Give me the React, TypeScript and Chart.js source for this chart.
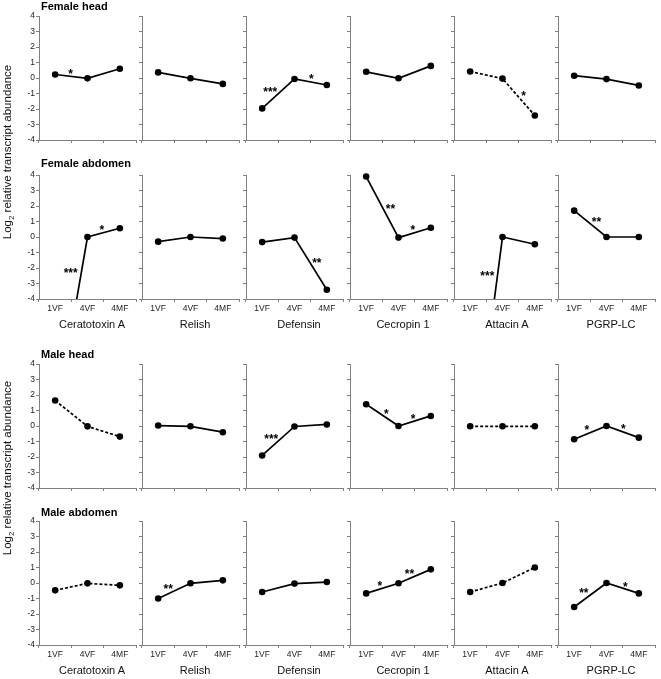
import React, { useEffect, useRef } from 'react';
import { Chart, registerables } from 'chart.js';

Chart.register(...registerables);

// ---------------- data ----------------
const categories = ['1VF', '4VF', '4MF'];
const genes = ['Ceratotoxin A', 'Relish', 'Defensin', 'Cecropin 1', 'Attacin A', 'PGRP-LC'];
const tissues = ['Female head', 'Female abdomen', 'Male head', 'Male abdomen'];
const yMin = -4;
const yMax = 4;
const yStep = 1;

// log2 relative transcript abundance per gene: [1VF, 4VF, 4MF]
const femaleHead = [
  [0.23, -0.02, 0.6],
  [0.36, -0.02, -0.38],
  [-1.96, -0.06, -0.45],
  [0.4, -0.02, 0.78],
  [0.42, -0.04, -2.42],
  [0.15, -0.07, -0.48],
];
const femaleAbdomen = [
  [-12, 0.0, 0.57],
  [-0.3, 0.0, -0.1],
  [-0.33, -0.04, -3.4],
  [3.9, -0.04, 0.6],
  [-16, 0.0, -0.47],
  [1.7, 0.0, 0.0],
];
const maleHead = [
  [1.65, -0.02, -0.68],
  [0.03, -0.02, -0.4],
  [-1.9, -0.03, 0.1],
  [1.4, 0.0, 0.65],
  [-0.02, -0.02, -0.02],
  [-0.85, 0.0, -0.75],
];
const maleAbdomen = [
  [-0.47, -0.02, -0.15],
  [-1.0, -0.02, 0.17],
  [-0.58, -0.04, 0.06],
  [-0.67, -0.02, 0.88],
  [-0.58, 0.0, 1.0],
  [-1.55, 0.0, -0.67],
];

// dashed (non-significant trend) lines
const dashedFemaleHead = [false, false, false, false, true, false];
const dashedFemaleAbdomen = [false, false, false, false, false, false];
const dashedMaleHead = [true, false, false, false, true, false];
const dashedMaleAbdomen = [true, false, false, false, true, false];

// significance marks: [text, category position, value]
const starsFemaleHead = [
  [['*', 0.48, 0.47]],
  [],
  [['***', 0.25, -0.7], ['*', 1.52, 0.1]],
  [],
  [['*', 1.65, -0.99]],
  [],
];
const starsFemaleAbdomen = [
  [['***', 0.48, -2.1], ['*', 1.44, 0.65]],
  [],
  [['**', 1.69, -1.48]],
  [['**', 0.75, 2.0], ['*', 1.44, 0.63]],
  [['***', 0.53, -2.35]],
  [['**', 0.69, 1.17]],
];
const starsMaleHead = [
  [],
  [],
  [['***', 0.28, -0.65]],
  [['*', 0.62, 0.96], ['*', 1.45, 0.66]],
  [],
  [['*', 0.39, -0.09], ['*', 1.52, 0.0]],
];
const starsMaleAbdomen = [
  [],
  [['**', 0.31, -0.22]],
  [],
  [['*', 0.42, 0.0], ['**', 1.34, 0.77]],
  [],
  [['**', 0.3, -0.47], ['*', 1.58, -0.04]],
];

const rowValues = [femaleHead, femaleAbdomen, maleHead, maleAbdomen];
const rowDashed = [dashedFemaleHead, dashedFemaleAbdomen, dashedMaleHead, dashedMaleAbdomen];
const rowStars = [starsFemaleHead, starsFemaleAbdomen, starsMaleHead, starsMaleAbdomen];

// ---------------- layout ----------------
const FONT = '"Liberation Sans", Arial, Helvetica, sans-serif';
const AXIS = '#808080';
const colLeft = [39, 142, 246, 350, 454, 558];
const rowTop = [16, 175, 364, 521];
const rowShowX = [false, true, false, true];
const plotW = 97;
const plotH = 124;
const PAD_L = 32;
const PAD_T = 6;
const PAD_R = 6;
const PAD_B = 22;
const CW = PAD_L + plotW + PAD_R;
const CH = PAD_T + plotH + PAD_B;

const starPlugin = {
  id: 'stars',
  afterDatasetsDraw(chart: any, _args: any, opts: any) {
    const { ctx } = chart;
    const xs = chart.scales.x;
    const ys = chart.scales.y;
    ctx.save();
    ctx.fillStyle = '#000';
    ctx.font = 'bold 12px ' + FONT;
    ctx.textAlign = 'center';
    ctx.textBaseline = 'alphabetic';
    for (const [t, xi, yv] of opts.items || []) {
      ctx.fillText(t, xs.getPixelForValue(xi), ys.getPixelForValue(yv) + 7);
    }
    ctx.restore();
  },
};

function Panel(props: {
  values: number[];
  dashed: boolean;
  stars: any[];
  showY: boolean;
  showX: boolean;
  left: number;
  top: number;
}) {
  const ref = useRef<HTMLCanvasElement>(null);
  useEffect(() => {
    const chart = new Chart(ref.current as HTMLCanvasElement, {
      type: 'line',
      data: {
        labels: categories,
        datasets: [
          {
            data: props.values,
            borderColor: '#000',
            backgroundColor: '#000',
            borderWidth: 1.7,
            borderDash: props.dashed ? [3, 2] : [],
            pointRadius: 3.3,
            pointBackgroundColor: '#000',
            pointBorderWidth: 0,
            tension: 0,
            fill: false,
            clip: { left: 6, right: 6, top: 6, bottom: 0 } as any,
          },
        ],
      },
      options: {
        animation: false,
        responsive: false,
        maintainAspectRatio: false,
        devicePixelRatio: 1,
        events: [],
        layout: { padding: { left: 0, right: PAD_R, top: PAD_T, bottom: 0 } },
        plugins: {
          legend: { display: false },
          tooltip: { enabled: false },
          stars: { items: props.stars },
        } as any,
        scales: {
          x: {
            type: 'category',
            offset: true,
            grid: {
              display: true,
              drawOnChartArea: false,
              drawTicks: true,
              tickLength: 3,
              offset: true,
              color: AXIS,
              lineWidth: 1,
            },
            border: { display: true, color: AXIS, width: 1 },
            ticks: {
              display: props.showX,
              autoSkip: false,
              maxRotation: 0,
              padding: 2,
              color: '#222',
              font: { family: FONT, size: 8.5 },
            },
            afterFit: (s: any) => {
              s.height = PAD_B;
            },
          } as any,
          y: {
            type: 'linear',
            min: yMin,
            max: yMax,
            grid: {
              display: true,
              drawOnChartArea: false,
              drawTicks: true,
              tickLength: 3,
              color: AXIS,
              lineWidth: 1,
            },
            border: { display: true, color: AXIS, width: 1 },
            ticks: {
              display: props.showY,
              stepSize: yStep,
              padding: 1,
              color: '#222',
              font: { family: FONT, size: 8.5 },
            },
            afterFit: (s: any) => {
              s.width = PAD_L;
            },
          } as any,
        },
      },
      plugins: [starPlugin as any],
    });
    return () => chart.destroy();
  }, []);
  return (
    <canvas
      ref={ref}
      width={CW}
      height={CH}
      style={{
        position: 'absolute',
        left: props.left - PAD_L,
        top: props.top - PAD_T,
        width: CW,
        height: CH,
      }}
    />
  );
}

const titleBaseline = [10, 167.5, 358, 516];
const geneBaseline = [328, 674];
const yLabelCenter = [152, 468];

export default function App() {
  const panels: any[] = [];
  rowValues.forEach((row, r) => {
    row.forEach((vals, c) => {
      panels.push(
        <Panel
          key={r + '-' + c}
          values={vals}
          dashed={rowDashed[r][c]}
          stars={rowStars[r][c]}
          showY={c === 0}
          showX={rowShowX[r]}
          left={colLeft[c]}
          top={rowTop[r]}
        />
      );
    });
  });
  const texts: any[] = [];
  tissues.forEach((t, r) => {
    texts.push(
      <div
        key={'t' + r}
        style={{
          position: 'absolute',
          left: 41,
          top: titleBaseline[r] - 9.31,
          fontFamily: FONT,
          fontWeight: 'bold',
          fontSize: 11,
          lineHeight: '11px',
          whiteSpace: 'nowrap',
          color: '#000',
        }}
      >
        {t}
      </div>
    );
  });
  geneBaseline.forEach((b, k) => {
    genes.forEach((g, c) => {
      texts.push(
        <div
          key={'g' + k + c}
          style={{
            position: 'absolute',
            left: colLeft[c] + 53 - 60,
            width: 120,
            textAlign: 'center',
            top: b - 9.31,
            fontFamily: FONT,
            fontSize: 11,
            lineHeight: '11px',
            whiteSpace: 'nowrap',
            color: '#111',
          }}
        >
          {g}
        </div>
      );
    });
  });
  yLabelCenter.forEach((cy, k) => {
    texts.push(
      <div
        key={'y' + k}
        style={{
          position: 'absolute',
          left: 6.5 - 120,
          top: cy - 6,
          width: 240,
          height: 12,
          textAlign: 'center',
          fontFamily: FONT,
          fontSize: 11.5,
          lineHeight: '12px',
          whiteSpace: 'nowrap',
          color: '#111',
          transform: 'rotate(-90deg)',
          transformOrigin: '50% 50%',
        }}
      >
        Log<span style={{ fontSize: 8, position: 'relative', top: 3 }}>2</span> relative transcript abundance
      </div>
    );
  });
  return (
    <div
      style={{
        position: 'absolute',
        left: 0,
        top: 0,
        width: 661,
        height: 679,
        background: '#fff',
        overflow: 'hidden',
      }}
    >
      {panels}
      {texts}
    </div>
  );
}
